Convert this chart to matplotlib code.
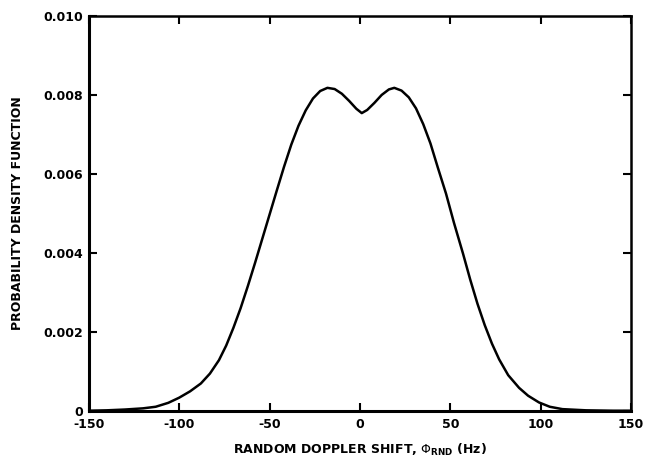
import matplotlib.pyplot as plt

plt.rcParams['font.family'] = ['DejaVu Sans']
plt.rcParams['mathtext.fontset'] = 'dejavusans'

# Curva
shift_hz = [-150, -140, -130, -120, -113, -106, -100, -94, -88, -83, -78, -74,
            -70, -66, -62, -58, -54, -50, -46, -42, -38, -34, -30, -26, -22,
            -18, -14, -10, -6, -2, 1, 4, 8, 12, 16, 19, 23, 27, 31, 35, 39,
            43, 47.6, 52, 57, 61, 65, 69, 73, 77, 82, 88, 93, 99, 105, 112,
            125, 140, 150]
pdf_vals = [0, 0.00001, 0.00003, 0.00006, 0.0001, 0.0002, 0.00033, 0.00049,
            0.00069, 0.00094, 0.00128, 0.00165, 0.0021, 0.0026, 0.00316,
            0.00375, 0.00436, 0.00497, 0.00558, 0.00618, 0.00674, 0.00722,
            0.00761, 0.00791, 0.0081, 0.00818, 0.00815, 0.00803, 0.00785,
            0.00765, 0.00754, 0.00762, 0.0078, 0.008, 0.00814, 0.00818,
            0.00811, 0.00794, 0.00766, 0.00726, 0.00677, 0.00617, 0.0055,
            0.00476, 0.00398, 0.00332, 0.00271, 0.00217, 0.0017, 0.0013,
            0.0009, 0.00058, 0.00038, 0.00021, 0.0001, 0.00004, 0.00001, 0, 0]

x_ticks = [-150, -100, -50, 0, 50, 100, 150]
x_labels = ['-150', '-100', '-50', '0', '50', '100', '150']
y_ticks = [0, 0.002, 0.004, 0.006, 0.008, 0.010]
y_labels = ['0', '0.002', '0.004', '0.006', '0.008', '0.010']

fig = plt.figure(figsize=(6.48, 4.71), dpi=100)
ax = fig.add_axes([0.137, 0.128, 0.837, 0.838])
ax.plot(shift_hz, pdf_vals, color='black', linewidth=1.8,
        solid_joinstyle='round', solid_capstyle='round')

ax.set_xlim(-150, 150)
ax.set_ylim(0, 0.010)
ax.set_xticks(x_ticks)
ax.set_xticklabels(x_labels, fontsize=9, fontweight='bold')
ax.set_yticks(y_ticks)
ax.set_yticklabels(y_labels, fontsize=9, fontweight='bold')
ax.tick_params(direction='in', length=6, width=1.5, top=True, right=True)
ax.tick_params(axis='x', pad=5)
ax.tick_params(axis='y', pad=4)

for side in ['left', 'bottom']:
    ax.spines[side].set_linewidth(2.2)
for side in ['top', 'right']:
    ax.spines[side].set_linewidth(1.8)

ax.set_xlabel(r'RANDOM DOPPLER SHIFT, $\Phi_{\mathbf{RND}}$ (Hz)',
              fontsize=9, fontweight='bold', labelpad=8)
ax.set_ylabel('PROBABILITY DENSITY FUNCTION', fontsize=9, fontweight='bold', labelpad=14)

fig.savefig('out.png', dpi=100)
